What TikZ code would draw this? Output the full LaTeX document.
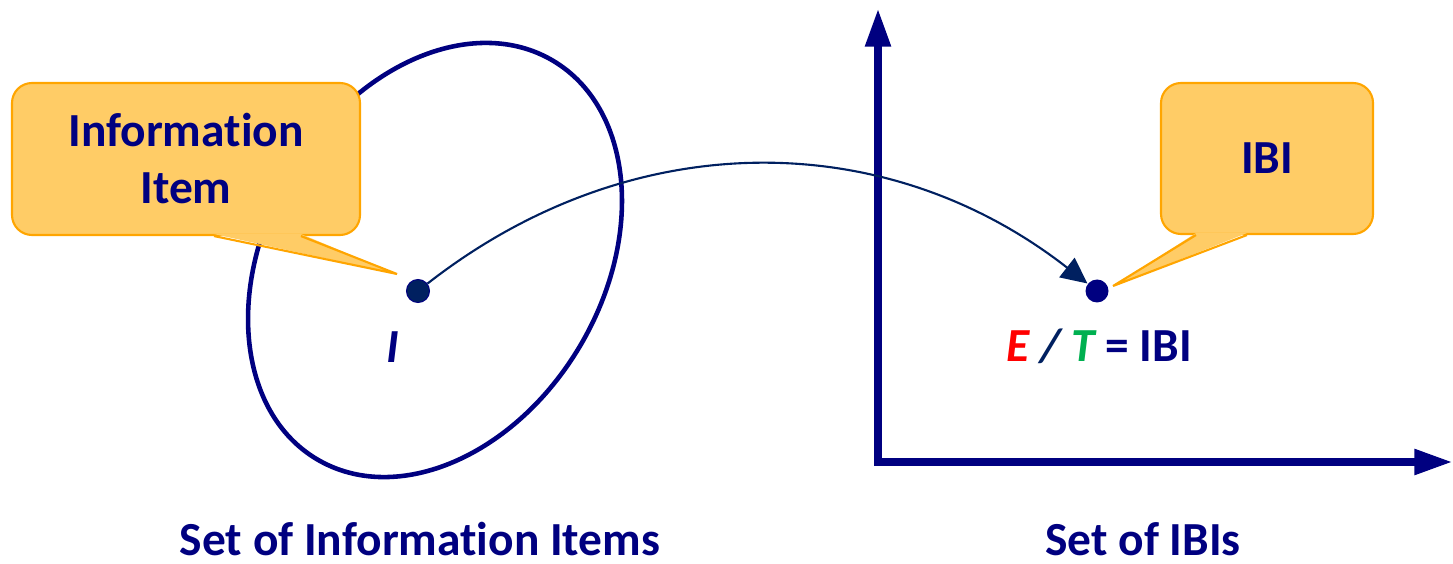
\documentclass[tikz,border=0pt]{standalone}
\usepackage{fontspec}
\setmainfont{Carlito}[Ligatures=NoCommon]
\definecolor{navy}{RGB}{0,0,128}
\definecolor{darknavy}{RGB}{0,32,96}
\definecolor{bubblefill}{RGB}{255,204,102}
\definecolor{bubbleline}{RGB}{255,165,0}
\definecolor{ered}{RGB}{255,0,0}
\definecolor{tgreen}{RGB}{0,176,80}
\usepackage{tikz}
\usetikzlibrary{arrows.meta,positioning,calc}

\begin{document}
\begin{tikzpicture}[
        bubble/.style={draw=bubbleline,fill=bubblefill,line width=0.6pt,rounded corners=0.2cm,text=navy,font=\fontsize{13.5}{16.2}\selectfont\bfseries,align=center,inner sep=0pt},
        pointer/.style={draw=bubbleline,line width=0.6pt},
        dot/.style={circle,inner sep=0pt,minimum size=0.23cm},
        lbl/.style={text=navy,font=\fontsize{13.5}{16.2}\selectfont\bfseries,anchor=base},
        axis/.style={draw=navy,line width=2.4pt,line cap=rect,-{Triangle[length=11pt,width=6.8pt]}},
        arrow/.style={draw=darknavy,line width=0.6pt,-{Triangle[length=7.4pt,width=7pt]}},
    ]
    \useasboundingbox (0,0) rectangle (14.53,5.63);

    % set of information items
    \draw[navy,line width=1.3pt] (4.35,3.03) circle[x radius=2.316,y radius=1.686,rotate=59.4];

    \node[dot,fill=darknavy,draw=navy,line width=0.3pt] (itemdot) at (4.18,2.72) {};
    \node[lbl] (itemlbl) at (3.93,2.00) {\itshape I};

    \node[bubble,minimum width=3.48cm,minimum height=1.52cm] (itembox) at (1.86,4.04) {Informat\kern0pt ion\\Item};
    \coordinate (itemtip) at (3.97,2.89);
    \fill[bubblefill] ($(itembox.south west)+(2.03,0.02)$) -- (itemtip) -- ($(itembox.south west)+(2.90,0.02)$) -- cycle;
    \draw[pointer] ($(itembox.south west)+(2.03,0)$) -- (itemtip) -- ($(itembox.south west)+(2.90,0)$);

    % set of IBIs
    \coordinate (origin) at (8.78,1.01);
    \coordinate (yend) at (8.78,5.55);
    \coordinate (xend) at (14.53,1.01);
    \draw[axis] (origin) -- (yend);
    \draw[axis] (origin) -- (xend);

    \node[dot,fill=navy] (ibidot) at (10.97,2.72) {};
    \node[lbl] (ibilbl) at (10.99,2.01) {\textcolor{ered}{\itshape E} \textcolor{darknavy}{\itshape /} \textcolor{tgreen}{\itshape T} = IBI};

    \node[bubble,minimum width=2.12cm,minimum height=1.51cm] (ibibox) at (12.67,4.045) {IBI};
    \coordinate (ibitip) at (11.13,2.77);
    \fill[bubblefill] ($(ibibox.south west)+(0.36,0.02)$) -- (ibitip) -- ($(ibibox.south west)+(0.87,0.02)$) -- cycle;
    \draw[pointer] ($(ibibox.south west)+(0.36,0)$) -- (ibitip) -- ($(ibibox.south west)+(0.87,0)$);

    % mapping
    \draw[arrow] (itemdot) to[bend left=38] (ibidot);

    \node[lbl] (itemset) at (4.20,0.08) {Set of Informat\kern0pt ion Items};
    \node[lbl] (ibiset)  at (11.43,0.08) {Set of IBIs};
\end{tikzpicture}
\end{document}
